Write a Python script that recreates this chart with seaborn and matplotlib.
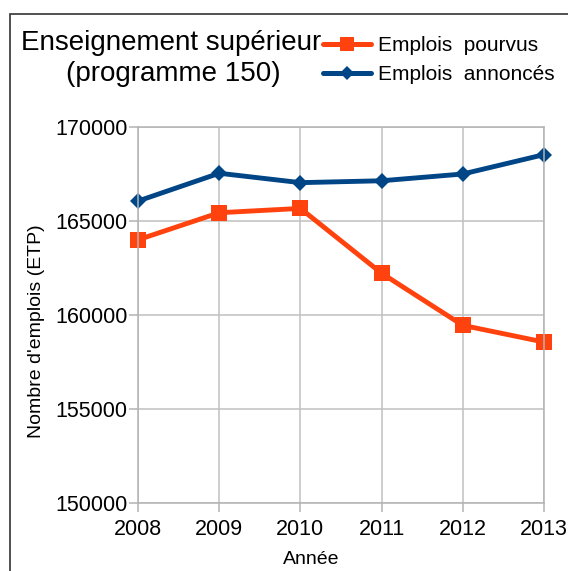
import matplotlib
matplotlib.use("Agg")
import matplotlib.pyplot as plt
import seaborn as sns
import pandas as pd
from matplotlib.patches import Rectangle
from matplotlib.lines import Line2D

years = [2008, 2009, 2010, 2011, 2012, 2013]
pourvus = [164000, 165440, 165670, 162220, 159450, 158560]
annonces = [166060, 167540, 167040, 167140, 167500, 168530]
series_names = ["Emplois  pourvus", "Emplois  annoncés"]
y_ticks = [150000, 155000, 160000, 165000, 170000]
title_lines = ["Enseignement supérieur", "(programme 150)"]

sns.set_theme(style="whitegrid")
plt.rcParams['font.family'] = ['Liberation Sans', 'DejaVu Sans']
plt.rcParams['text.color'] = 'black'

df = pd.DataFrame({
    "Année": years * 2,
    "val": pourvus + annonces,
    "serie": [series_names[0]] * len(years) + [series_names[1]] * len(years),
})

W, H = 568, 571
fig = plt.figure(figsize=(W / 100, H / 100), dpi=100)
ax = fig.add_axes([138 / W, 1 - 503 / H, (544 - 138) / W, (503 - 127) / H])
ax.set_facecolor("white")

c_orange, c_blue = "#ff420e", "#004586"
palette = {series_names[0]: c_orange, series_names[1]: c_blue}
markers = {series_names[0]: "s", series_names[1]: "D"}
sns.lineplot(data=df, x="Année", y="val", hue="serie", style="serie",
             palette=palette, markers=markers, dashes=False, ax=ax,
             linewidth=3.5, markersize=11.5, markeredgewidth=0, legend=False)
for ln in ax.lines:
    if ln.get_marker() == "D":
        ln.set_markersize(8.5)
    ln.set_clip_on(False)

ax.set_xlim(2008, 2013)
ax.set_ylim(150000, 170000)
ax.set_xticks(years)
ax.set_xticklabels([str(y) for y in years])
ax.set_yticks(y_ticks)
ax.set_yticklabels([str(v) for v in y_ticks])
ax.grid(True, color="#c0c0c0", linewidth=1.1)
for s in ax.spines.values():
    s.set_color("#b3b3b3")
    s.set_linewidth(1.1)
ax.tick_params(axis="both", which="both", length=6.5, width=1.1, color="#b3b3b3",
               labelsize=15.5, labelcolor="black", direction="out",
               bottom=True, left=True)
ax.tick_params(axis="y", pad=1)
ax.tick_params(axis="x", pad=5)
ax.set_xlabel("")
ax.set_ylabel("")

# axis titles, centred on the whole chart area as in the reference
fig.text(311 / W, 1 - 560 / H, "Année", ha="center", va="center", fontsize=14, color="black")
fig.text(37 / W, 1 - 331 / H, "Nombre d'emplois (ETP)", ha="center", va="center",
         rotation=90, fontsize=14, color="black")

# frame of the whole chart (partially cropped)
fig.patches.append(Rectangle((10 / W, -0.1), 1.2, 1 - 13.5 / H + 0.1,
                             transform=fig.transFigure, fill=False,
                             edgecolor="#333333", linewidth=1.2))

fig.text(171 / W, 1 - 50 / H, title_lines[0], ha="center", va="baseline", fontsize=20, color="black")
fig.text(173 / W, 1 - 81 / H, title_lines[1], ha="center", va="baseline", fontsize=20, color="black")

handles = [Line2D([], [], color=c_orange, marker="s", linewidth=3.6, markersize=10, markeredgewidth=0),
           Line2D([], [], color=c_blue, marker="D", linewidth=3.6, markersize=7, markeredgewidth=0)]
leg = fig.legend(handles, series_names, loc="upper left",
                 bbox_to_anchor=(323 / W, 1 - 36 / H), frameon=False, fontsize=15,
                 handlelength=2.3, handletextpad=0.35, labelspacing=0.5,
                 borderpad=0, borderaxespad=0)
for t in leg.get_texts():
    t.set_color("black")

fig.savefig("out.png", dpi=100)
